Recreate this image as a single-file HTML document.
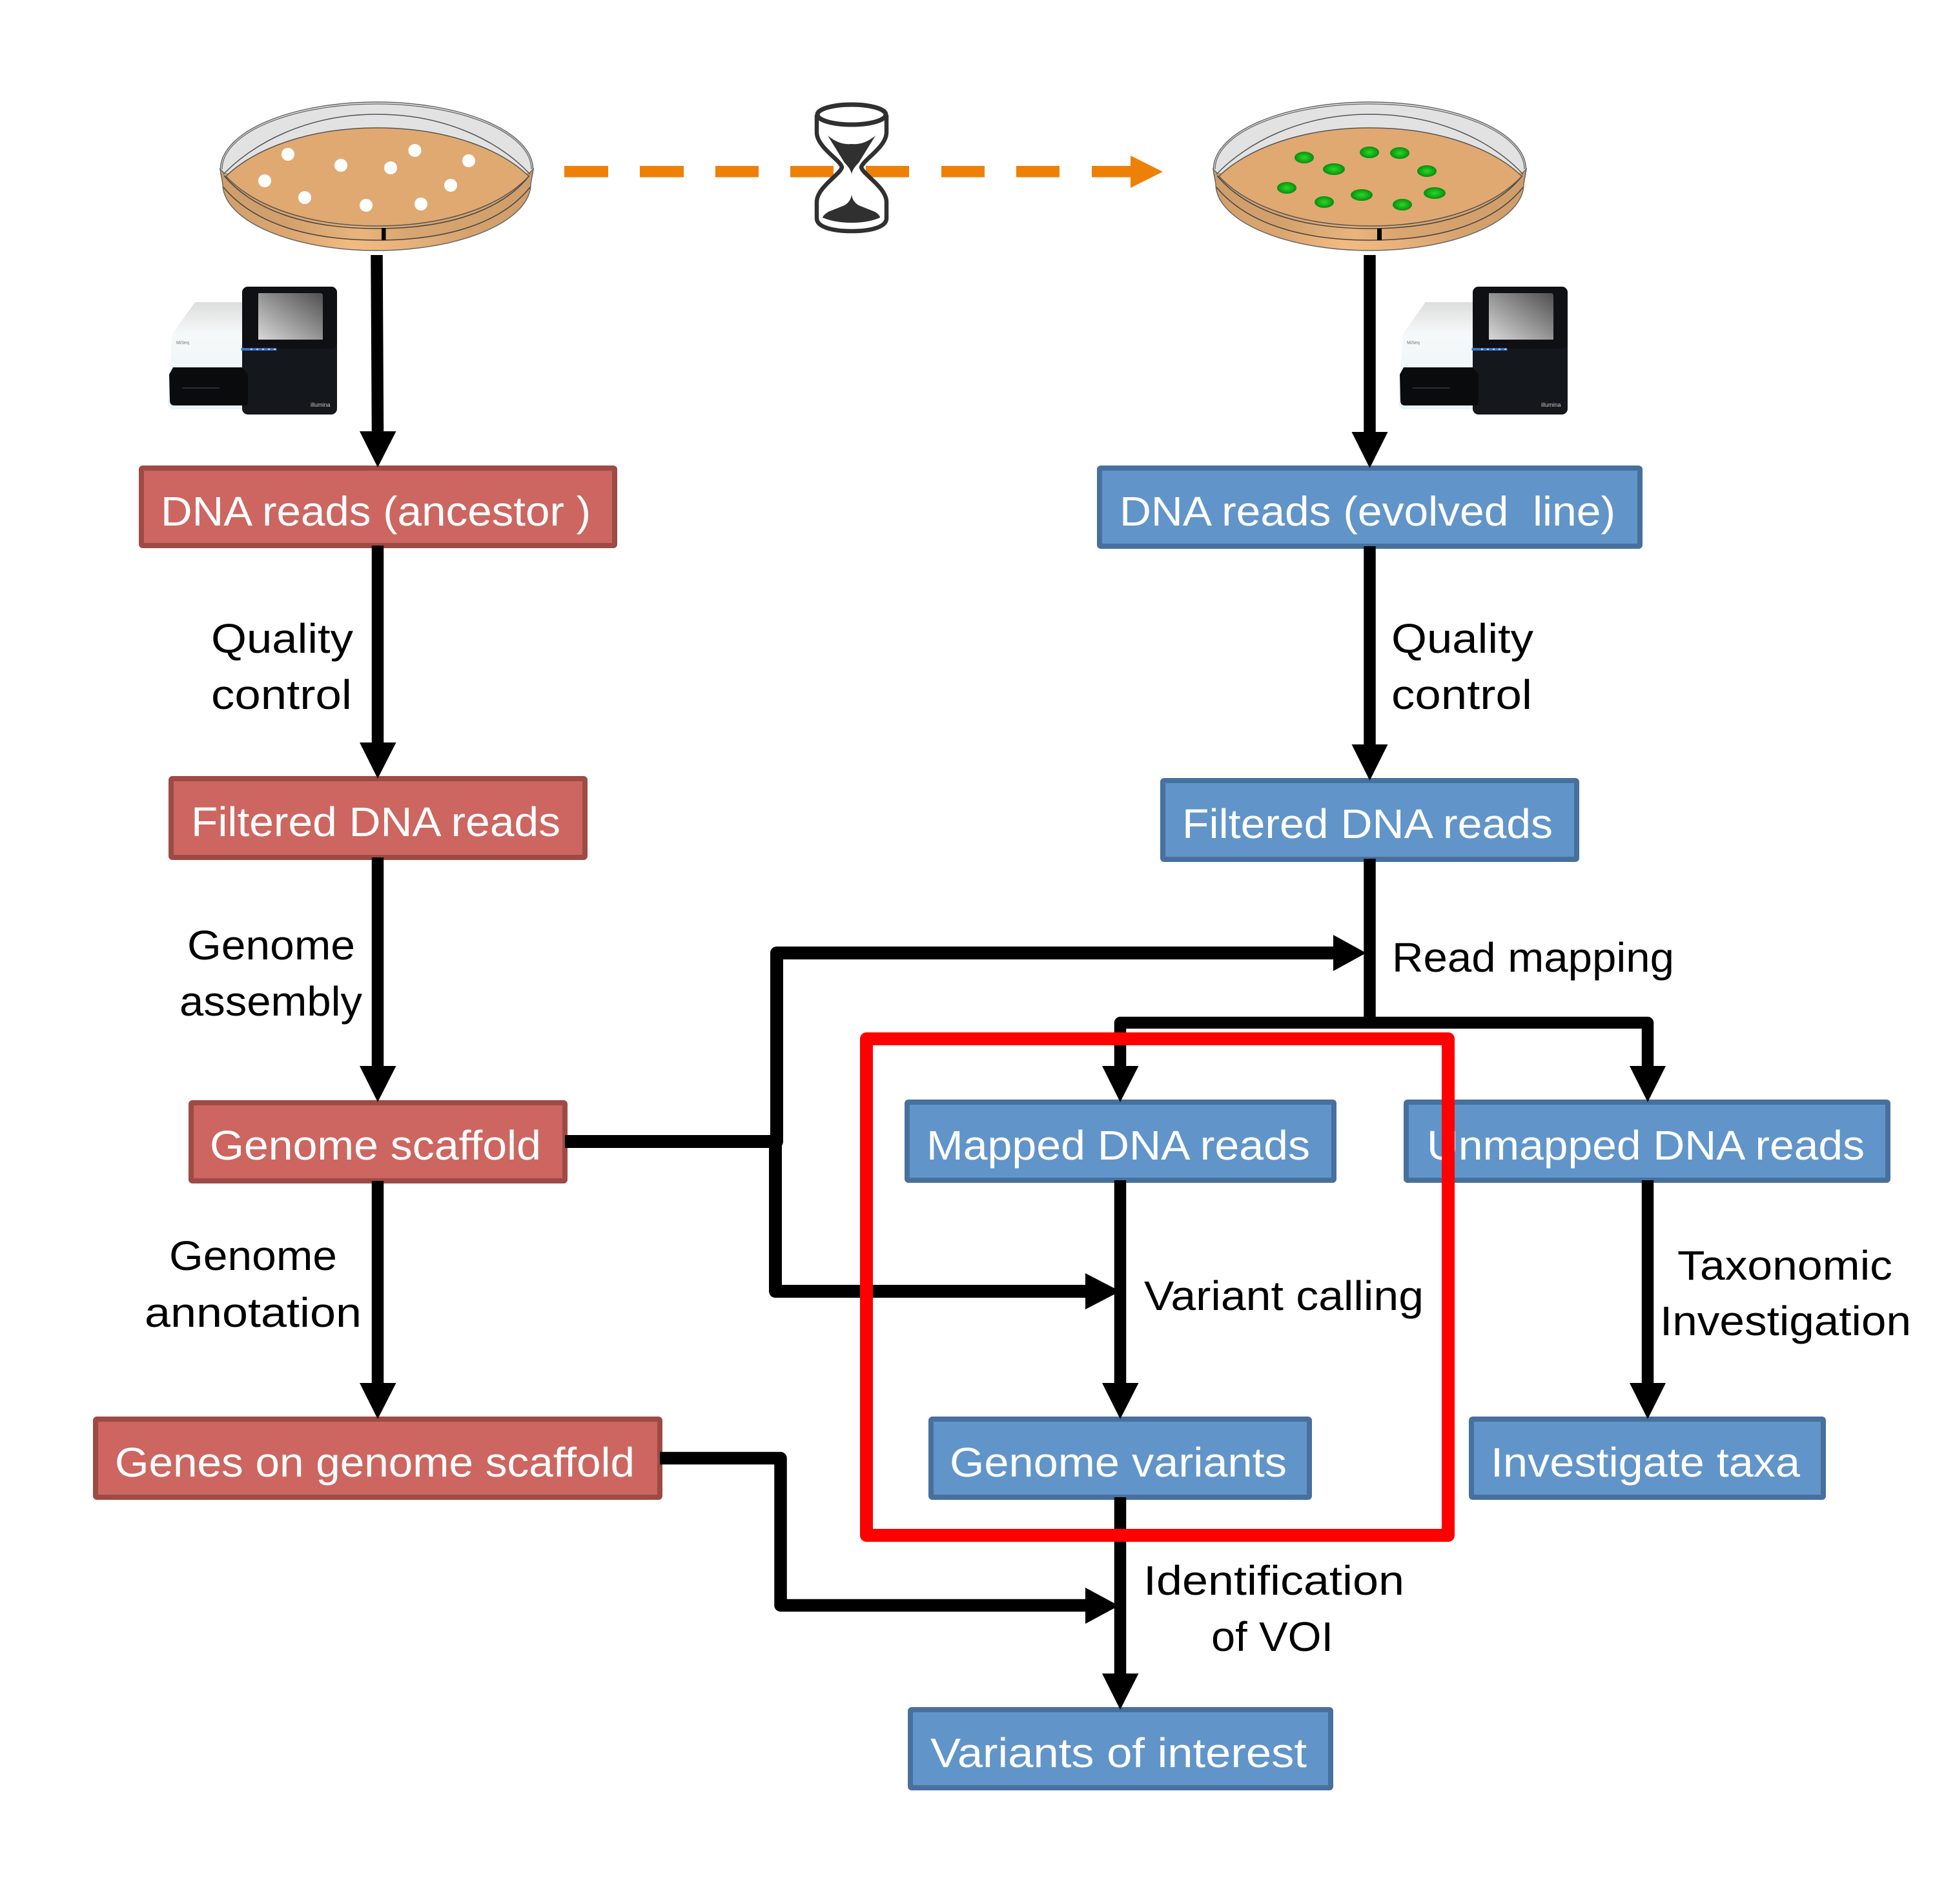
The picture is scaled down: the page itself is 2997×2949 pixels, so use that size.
<!DOCTYPE html>
<html><head><meta charset="utf-8"><title>Diagram</title>
<style>
html,body{margin:0;padding:0;background:#fff}
svg{display:block}
text{font-family:"Liberation Sans",sans-serif;font-size:64px}
.w{fill:#fff}.k{fill:#000}
.r{fill:#CD6660;stroke:#9E4A45;stroke-width:8;stroke-linejoin:round}
.b{fill:#6195C9;stroke:#47709E;stroke-width:8;stroke-linejoin:round}
.l{fill:none;stroke:#000;stroke-linejoin:round}
</style></head>
<body>
<svg xmlns="http://www.w3.org/2000/svg" width="2997" height="2949" viewBox="0 0 2997 2949">
<defs>
<linearGradient id="g1" x1="0" x2="1" y1="0" y2="0"><stop offset="0" stop-color="#d19f6b"/><stop offset=".22" stop-color="#dca670"/><stop offset=".42" stop-color="#f3bb81"/><stop offset=".62" stop-color="#e6b07a"/><stop offset=".8" stop-color="#d5a26d"/><stop offset="1" stop-color="#cf9d69"/></linearGradient>
<linearGradient id="g2" x1="0" x2="1" y1="0" y2="0"><stop offset="0" stop-color="#cf9e6a"/><stop offset=".2" stop-color="#d2a06c"/><stop offset=".45" stop-color="#e9b47d"/><stop offset=".6" stop-color="#d9a671"/><stop offset="1" stop-color="#cf9d69"/></linearGradient>
<linearGradient id="sc" x1="0" x2="1" y1="1" y2="0"><stop offset="0" stop-color="#d8d8d8"/><stop offset="1" stop-color="#505050"/></linearGradient>
<linearGradient id="wb" x1="0" x2="0" y1="0" y2="1"><stop offset="0" stop-color="#dcdedd"/><stop offset=".3" stop-color="#f6f9f9"/><stop offset="1" stop-color="#e8f4f6"/></linearGradient>
<radialGradient id="gc"><stop offset="0" stop-color="#2bd62b"/><stop offset=".55" stop-color="#16b316"/><stop offset="1" stop-color="#0b8a12"/></radialGradient>
<g id="dish">
<ellipse cx="583.5" cy="262" rx="242" ry="104" fill="#e2e2e2" stroke="#666" stroke-width="1.5"/>
<path d="M345 285 A238.5 103 0 0 0 822 285 L826 262 L820 268 L584 340 L347 268 L341 262Z" fill="url(#g1)" stroke="#666" stroke-width="1.5"/>
<path d="M346 290 C392 345 475 372 584 372 C694 372 777 345 821 290 L820 268 L347 268Z" fill="url(#g2)"/>
<path d="M346 290 C392 345 475 372 584 372 C694 372 777 345 821 290" fill="none" stroke="#444" stroke-width="1.5"/>
<path d="M344 262 A239.5 101 0 0 1 823 262" fill="none" stroke="#666" stroke-width="1.3"/>
<path d="M346 270 C392 222 475 177 584 177 C694 177 777 222 821 270" fill="none" stroke="#555" stroke-width="1.5"/>
<path d="M347 272 C392 326 475 354 584 354 C694 354 777 326 820 272" fill="none" stroke="#444" stroke-width="1.5"/>
<path d="M350 273 C392 232 475 198 584 198 C694 198 777 232 819 273 C777 318 694 350 584 350 C475 350 392 318 350 273Z" fill="#e0a971" stroke="#555" stroke-width="1.5"/>
</g>
<g id="seq">
<path d="M302 468H380V634H268Q260 633 260 624L267 517Z" fill="url(#wb)"/>
<rect x="375" y="444" width="147" height="198" rx="9" fill="#14171c"/>
<rect x="375" y="444" width="147" height="96" rx="9" fill="#0f1014"/>
<path d="M400 454H496Q500 454 500 458V526H400Z" fill="url(#sc)"/>
<rect x="373.5" y="539" width="55" height="4" fill="#3f73c8"/>
<g fill="#bcd4f5"><rect x="388" y="540" width="3" height="2"/><rect x="397" y="540" width="3" height="2"/><rect x="406" y="540" width="3" height="2"/><rect x="415" y="540" width="3" height="2"/><rect x="424" y="540" width="3" height="2"/></g>
<path d="M268 569H375L384 580V626Q384 628 378 628H270Q263 628 263 620L262 580Z" fill="#0a0b0d"/>
<rect x="282" y="600" width="58" height="2" fill="#2b2e33"/>
</g>
</defs>

<!-- dishes -->
<use href="#dish"/>
<rect x="591" y="353" width="6.5" height="19" fill="#000"/>
<g fill="#fff">
<ellipse cx="446" cy="239" rx="10" ry="10"/><ellipse cx="528" cy="256" rx="10" ry="10"/><ellipse cx="605" cy="260" rx="10" ry="10"/><ellipse cx="642.5" cy="233" rx="10" ry="10"/><ellipse cx="726" cy="249" rx="10" ry="10"/><ellipse cx="410" cy="280" rx="10" ry="10"/><ellipse cx="472" cy="306" rx="10" ry="10"/><ellipse cx="567" cy="318" rx="10" ry="10"/><ellipse cx="652" cy="316" rx="10" ry="10"/><ellipse cx="698" cy="287" rx="10" ry="10"/>
</g>
<use href="#dish" x="1538"/>
<rect x="2133" y="354" width="7" height="18" fill="#000"/>
<g fill="url(#gc)">
<ellipse cx="2020" cy="244" rx="15" ry="9"/><ellipse cx="2066" cy="262" rx="17" ry="9"/><ellipse cx="2121" cy="236" rx="15" ry="9"/><ellipse cx="2168" cy="237" rx="15" ry="9"/><ellipse cx="2210" cy="265" rx="15" ry="9"/><ellipse cx="1993" cy="291" rx="15" ry="9"/><ellipse cx="2051" cy="313" rx="15" ry="9"/><ellipse cx="2109" cy="302" rx="17" ry="9"/><ellipse cx="2172" cy="317" rx="15" ry="9"/><ellipse cx="2222" cy="299" rx="17" ry="9"/>
</g>

<!-- orange dashed arrow -->
<g fill="#EE8105">
<rect x="874" y="257" width="68" height="17.5"/><rect x="991" y="257" width="68" height="17.5"/><rect x="1108" y="257" width="67" height="17.5"/><rect x="1224" y="257" width="67" height="17.5"/><rect x="1341" y="257" width="67" height="17.5"/><rect x="1458" y="257" width="67" height="17.5"/><rect x="1574" y="257" width="67" height="17.5"/>
<path d="M1691 257H1751V241L1801 266L1751 291V274.5H1691Z"/>
</g>

<!-- hourglass -->
<g fill="none" stroke="#303030" stroke-width="6.5">
<path fill="#fff" d="M1265 178V205C1265 228 1302 248 1304 259C1302 270 1265 290 1265 313V338C1265 352 1290 358 1319 358C1348 358 1373 352 1373 338V313C1373 290 1336 270 1334 259C1336 248 1373 228 1373 205V178"/>
<ellipse cx="1319" cy="177.5" rx="53" ry="15.5" fill="#fff" stroke-width="7"/>
</g>
<g fill="#303030">
<path d="M1282 210Q1300 225 1319 223Q1338 225 1356 210L1330 252Q1320 262 1319 270Q1318 262 1308 252Z"/>
<path d="M1319 301Q1320 312 1330 318L1355 328Q1363 333 1363 337Q1345 345 1319 345Q1293 345 1274 337Q1275 333 1283 328L1308 318Q1318 312 1319 301Z"/>
</g>

<!-- sequencers -->
<use href="#seq"/>
<text x="273" y="533" style="font-size:7px" fill="#777">MiSeq</text>
<text x="481" y="630" style="font-size:9px" fill="#c8c8c8">illumina</text>
<use href="#seq" x="1906"/>
<text x="2179" y="533" style="font-size:7px" fill="#777">MiSeq</text>
<text x="2387" y="630" style="font-size:9px" fill="#c8c8c8">illumina</text>

<!-- boxes -->
<rect class="r" x="219" y="725" width="733" height="120" rx="2"/>
<rect class="r" x="265" y="1206" width="641" height="122" rx="2"/>
<rect class="r" x="296" y="1708" width="579" height="121" rx="2"/>
<rect class="r" x="148" y="2198" width="874" height="121" rx="2"/>
<rect class="b" x="1703" y="725" width="837" height="121" rx="2"/>
<rect class="b" x="1801" y="1209" width="641" height="122" rx="2"/>
<rect class="b" x="1405" y="1707" width="661" height="121" rx="2"/>
<rect class="b" x="2178" y="1707" width="746" height="121" rx="2"/>
<rect class="b" x="1442" y="2198" width="586" height="121" rx="2"/>
<rect class="b" x="2279" y="2198" width="545" height="121" rx="2"/>
<rect class="b" x="1410" y="2648" width="651" height="121" rx="2"/>

<!-- box labels -->
<g class="w">
<text x="249" y="814" textLength="666" lengthAdjust="spacingAndGlyphs">DNA reads (ancestor )</text>
<text x="296" y="1295" textLength="572" lengthAdjust="spacingAndGlyphs">Filtered DNA reads</text>
<text x="325" y="1796" textLength="513" lengthAdjust="spacingAndGlyphs">Genome scaffold</text>
<text x="178" y="2287" textLength="805" lengthAdjust="spacingAndGlyphs">Genes on genome scaffold</text>
<text x="1734" y="814" textLength="768" lengthAdjust="spacingAndGlyphs" xml:space="preserve">DNA reads (evolved  line)</text>
<text x="1831" y="1298" textLength="574" lengthAdjust="spacingAndGlyphs">Filtered DNA reads</text>
<text x="1435" y="1796" textLength="594" lengthAdjust="spacingAndGlyphs">Mapped DNA reads</text>
<text x="2210" y="1796" textLength="678" lengthAdjust="spacingAndGlyphs">Unmapped DNA reads</text>
<text x="1471" y="2287" textLength="522" lengthAdjust="spacingAndGlyphs">Genome variants</text>
<text x="2309" y="2287" textLength="479" lengthAdjust="spacingAndGlyphs">Investigate taxa</text>
<text x="1441" y="2737" textLength="583" lengthAdjust="spacingAndGlyphs">Variants of interest</text>
</g>

<!-- side labels -->
<g class="k">
<text x="327" y="1011" textLength="220" lengthAdjust="spacingAndGlyphs">Quality</text>
<text x="327" y="1098" textLength="218" lengthAdjust="spacingAndGlyphs">control</text>
<text x="290" y="1486" textLength="260" lengthAdjust="spacingAndGlyphs">Genome</text>
<text x="278" y="1573" textLength="283" lengthAdjust="spacingAndGlyphs">assembly</text>
<text x="262" y="1967" textLength="260" lengthAdjust="spacingAndGlyphs">Genome</text>
<text x="224" y="2055" textLength="336" lengthAdjust="spacingAndGlyphs">annotation</text>
<text x="2155" y="1011" textLength="220" lengthAdjust="spacingAndGlyphs">Quality</text>
<text x="2155" y="1098" textLength="218" lengthAdjust="spacingAndGlyphs">control</text>
<text x="2156" y="1505" textLength="437" lengthAdjust="spacingAndGlyphs">Read mapping</text>
<text x="1772" y="2029" textLength="433" lengthAdjust="spacingAndGlyphs">Variant calling</text>
<text x="2598" y="1982" textLength="333" lengthAdjust="spacingAndGlyphs">Taxonomic</text>
<text x="2571" y="2068" textLength="389" lengthAdjust="spacingAndGlyphs">Investigation</text>
<text x="1771" y="2470" textLength="404" lengthAdjust="spacingAndGlyphs">Identification</text>
<text x="1876" y="2557" textLength="189" lengthAdjust="spacingAndGlyphs">of VOI</text>
</g>

<!-- connectors -->
<g class="l" stroke-width="18.5">
<path d="M583.5 395L585 670"/>
<path d="M585 845V1152"/>
<path d="M585 1328V1654"/>
<path d="M585 1829V2144"/>
<path d="M2121.5 395V671"/>
<path d="M2121.5 846V1155"/>
<path d="M2121.5 1330V1584"/>
<path d="M1735 1828V2144"/>
<path d="M2552 1828V2144"/>
<path d="M1735 2319V2594"/>
<path d="M1735 1653V1584H2552V1653"/>
</g>
<g class="l" stroke-width="20">
<path d="M875 1768H1203V1476H2067"/>
<path d="M1201 1768V2000H1683"/>
</g>
<g class="l" stroke-width="19.5">
<path d="M1022 2258.5H1209V2486.5H1683"/>
</g>
<g fill="#000">
<path d="M557 668H613.5L585 724Z"/>
<path d="M557 1150H613.5L585 1206Z"/>
<path d="M557 1651H613.5L585 1707Z"/>
<path d="M557 2142H613.5L585 2198Z"/>
<path d="M2093.5 669H2149.5L2121.5 725Z"/>
<path d="M2093.5 1153H2149.5L2121.5 1209Z"/>
<path d="M1707 1651H1763.5L1735 1707Z"/>
<path d="M2524 1651H2580L2552 1707Z"/>
<path d="M1707 2142H1763.5L1735 2198Z"/>
<path d="M2524 2142H2580L2552 2198Z"/>
<path d="M1707 2592H1763.5L1735 2648Z"/>
<path d="M2065 1448V1504L2116 1476Z"/>
<path d="M1681 1972V2028L1735 2000Z"/>
<path d="M1681 2459V2515L1733 2487Z"/>
</g>

<!-- red highlight -->
<rect x="1342" y="1609" width="901" height="769" fill="none" stroke="#ff0000" stroke-width="20" stroke-linejoin="round"/>
</svg>
</body></html>
